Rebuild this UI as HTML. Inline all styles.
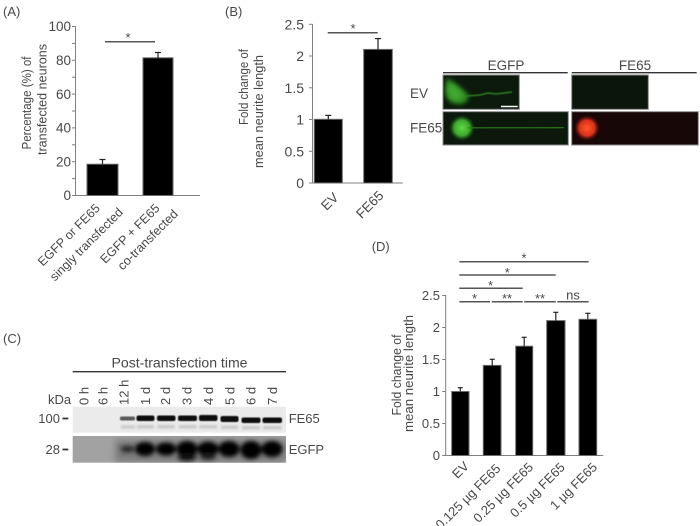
<!DOCTYPE html>
<html><head><meta charset="utf-8">
<style>
html,body{margin:0;padding:0;background:#fff;}
svg{display:block;}
text{font-family:"Liberation Sans",sans-serif;fill:#484848;}
</style></head><body>
<svg width="700" height="526" viewBox="0 0 700 526" xmlns="http://www.w3.org/2000/svg">
<defs>
<filter id="b05" x="-50%" y="-50%" width="200%" height="200%"><feGaussianBlur stdDeviation="0.6"/></filter>
<filter id="b1" x="-50%" y="-50%" width="200%" height="200%"><feGaussianBlur stdDeviation="1"/></filter>
<filter id="b2" x="-50%" y="-50%" width="200%" height="200%"><feGaussianBlur stdDeviation="2"/></filter>
<filter id="b3" x="-50%" y="-50%" width="200%" height="200%"><feGaussianBlur stdDeviation="3.5"/></filter>
<radialGradient id="gG" cx="0.5" cy="0.5" r="0.5">
<stop offset="0" stop-color="#62d84a"/><stop offset="0.6" stop-color="#3aa82a"/><stop offset="1" stop-color="#1f5a18" stop-opacity="0"/>
</radialGradient>
<radialGradient id="gR" cx="0.5" cy="0.5" r="0.5">
<stop offset="0" stop-color="#ff5a2a"/><stop offset="0.6" stop-color="#d8301a"/><stop offset="1" stop-color="#5a1008" stop-opacity="0"/>
</radialGradient>
<clipPath id="c1"><rect x="443" y="75" width="76.3" height="34.3"/></clipPath>
<clipPath id="c3"><rect x="443" y="111.7" width="125.3" height="33.3"/></clipPath>
<clipPath id="c4"><rect x="571.7" y="111.7" width="126.6" height="33.3"/></clipPath>
<clipPath id="cb2"><rect x="72.7" y="436" width="213.3" height="26.7"/></clipPath>
</defs>

<!-- ================= Panel A ================= -->
<text x="3" y="16" font-size="13">(A)</text>
<g stroke="#808080" stroke-width="1" fill="none">
<line x1="75.5" y1="26" x2="75.5" y2="195.5"/>
<line x1="75" y1="195.5" x2="200" y2="195.5"/>
<line x1="72" y1="195.5" x2="75.5" y2="195.5"/>
<line x1="72" y1="178.6" x2="75.5" y2="178.6"/>
<line x1="72" y1="161.7" x2="75.5" y2="161.7"/>
<line x1="72" y1="144.8" x2="75.5" y2="144.8"/>
<line x1="72" y1="127.9" x2="75.5" y2="127.9"/>
<line x1="72" y1="111" x2="75.5" y2="111"/>
<line x1="72" y1="94.1" x2="75.5" y2="94.1"/>
<line x1="72" y1="77.2" x2="75.5" y2="77.2"/>
<line x1="72" y1="60.3" x2="75.5" y2="60.3"/>
<line x1="72" y1="43.4" x2="75.5" y2="43.4"/>
<line x1="72" y1="26.5" x2="75.5" y2="26.5"/>
</g>
<g font-size="13.5" text-anchor="end">
<text x="71" y="200.2">0</text>
<text x="71" y="166.4">20</text>
<text x="71" y="132.6">40</text>
<text x="71" y="98.8">60</text>
<text x="71" y="65">80</text>
<text x="71" y="31.2">100</text>
</g>
<g fill="#000" stroke="#6a6a6a" stroke-width="1">
<rect x="87" y="164.2" width="31" height="31.3"/>
<rect x="143" y="57.8" width="30" height="137.7"/>
</g>
<g stroke="#222" stroke-width="1.2">
<line x1="102.5" y1="164" x2="102.5" y2="159.5"/><line x1="99.5" y1="159.5" x2="105.5" y2="159.5"/>
<line x1="158" y1="58" x2="158" y2="52.5"/><line x1="155" y1="52.5" x2="161" y2="52.5"/>
</g>
<line x1="105" y1="41.7" x2="155" y2="41.7" stroke="#555" stroke-width="1.5"/>
<text x="128" y="42" font-size="13" text-anchor="middle">*</text>
<text transform="translate(31,103) rotate(-90)" text-anchor="middle" font-size="13" textLength="93" lengthAdjust="spacingAndGlyphs">Percentage (%) of</text>
<text transform="translate(46.5,99.5) rotate(-90)" text-anchor="middle" font-size="13" textLength="111" lengthAdjust="spacingAndGlyphs">transfected neurons</text>
<g font-size="12.5" text-anchor="end">
<text transform="translate(100.7,209) rotate(-45)">EGFP or FE65</text>
<text transform="translate(123.7,213) rotate(-45)">singly transfected</text>
<text transform="translate(160.4,209) rotate(-45)">EGFP + FE65</text>
<text transform="translate(178.7,214.7) rotate(-45)">co-transfected</text>
</g>

<!-- ================= Panel B ================= -->
<text x="225" y="16" font-size="13">(B)</text>
<g stroke="#808080" stroke-width="1" fill="none">
<line x1="312.5" y1="24" x2="312.5" y2="183"/>
<line x1="312" y1="183" x2="402.7" y2="183"/>
<line x1="309" y1="183" x2="312.5" y2="183"/>
<line x1="309" y1="151.3" x2="312.5" y2="151.3"/>
<line x1="309" y1="119.5" x2="312.5" y2="119.5"/>
<line x1="309" y1="87.8" x2="312.5" y2="87.8"/>
<line x1="309" y1="56" x2="312.5" y2="56"/>
<line x1="309" y1="24.3" x2="312.5" y2="24.3"/>
</g>
<g font-size="14" text-anchor="end">
<text x="304" y="188">0</text>
<text x="304" y="156.3">0.5</text>
<text x="304" y="124.5">1</text>
<text x="304" y="92.8">1.5</text>
<text x="304" y="61">2</text>
<text x="304" y="29.3">2.5</text>
</g>
<g fill="#000" stroke="#6a6a6a" stroke-width="1">
<rect x="314.3" y="119.3" width="28" height="63.7"/>
<rect x="363.7" y="49.4" width="28.6" height="133.6"/>
</g>
<g stroke="#222" stroke-width="1.2">
<line x1="328.3" y1="119.5" x2="328.3" y2="115.4"/><line x1="325.3" y1="115.4" x2="331.3" y2="115.4"/>
<line x1="378" y1="49.5" x2="378" y2="38.6"/><line x1="375" y1="38.6" x2="381" y2="38.6"/>
</g>
<line x1="327.7" y1="32.7" x2="377.7" y2="32.7" stroke="#555" stroke-width="1.5"/>
<text x="353" y="33" font-size="13" text-anchor="middle">*</text>
<text transform="translate(248,87) rotate(-90)" text-anchor="middle" font-size="13" textLength="76" lengthAdjust="spacingAndGlyphs">Fold change of</text>
<text transform="translate(263,111.5) rotate(-90)" text-anchor="middle" font-size="13" textLength="113" lengthAdjust="spacingAndGlyphs">mean neurite length</text>
<g font-size="13.5" text-anchor="end">
<text transform="translate(339.4,198.4) rotate(-45)">EV</text>
<text transform="translate(384.4,196.4) rotate(-45)">FE65</text>
</g>

<!-- ================= Microscopy ================= -->
<text x="506" y="70" font-size="13.5" text-anchor="middle">EGFP</text>
<text x="635" y="70" font-size="13.5" text-anchor="middle">FE65</text>
<line x1="443" y1="72.7" x2="567.7" y2="72.7" stroke="#333" stroke-width="1.3"/>
<line x1="571.7" y1="72.7" x2="696.7" y2="72.7" stroke="#333" stroke-width="1.3"/>
<text x="410" y="98" font-size="13.5">EV</text>
<text x="410" y="132.5" font-size="13.5">FE65</text>

<!-- EV EGFP -->
<rect x="443" y="75" width="76.3" height="34.3" fill="#0c1a0c"/>
<g clip-path="url(#c1)">
<path d="M446,79 C452,79 460,87 467,93 C470,97 468,103 461,104 C452,105 446,100 445,92 Z" fill="#2f8a22" filter="url(#b2)"/>
<path d="M449,84 C454,85 459,90 462,94 C464,98 460,100 455,100 C450,99 448,94 448,88 Z" fill="#3fa82e" filter="url(#b2)"/>
<path d="M466,96 L480,95 L488,93 L496,94 L504,93 L512,92" stroke="#2f7f24" stroke-width="1.5" fill="none" filter="url(#b05)"/>
</g>
<line x1="501" y1="106.5" x2="517.7" y2="106.5" stroke="#fff" stroke-width="1.6"/>
<rect x="443" y="75" width="76.3" height="34.3" fill="none" stroke="#8a8a8a" stroke-width="1"/>

<!-- EV FE65 -->
<rect x="571.7" y="75" width="76.6" height="34.3" fill="#0b150b" stroke="#8a8a8a" stroke-width="1"/>

<!-- FE65 EGFP -->
<rect x="443" y="111.7" width="125.3" height="33.3" fill="#0b180b"/>
<g clip-path="url(#c3)">
<circle cx="462" cy="128" r="13" fill="url(#gG)"/>
<line x1="468" y1="128" x2="564" y2="127.5" stroke="#2a7f1f" stroke-width="1.7" filter="url(#b05)"/>
<line x1="548" y1="127.5" x2="562" y2="127.5" stroke="#3a9a2a" stroke-width="2.2" filter="url(#b05)"/>
</g>
<rect x="443" y="111.7" width="125.3" height="33.3" fill="none" stroke="#8a8a8a" stroke-width="1"/>

<!-- FE65 FE65 -->
<rect x="571.7" y="111.7" width="126.6" height="33.3" fill="#180707"/>
<g clip-path="url(#c4)">
<circle cx="587" cy="128" r="13" fill="url(#gR)"/>
<line x1="593" y1="128" x2="693" y2="128" stroke="#a82410" stroke-width="1.8" filter="url(#b05)"/>
<line x1="676" y1="128" x2="692" y2="128" stroke="#c82e14" stroke-width="2.4" filter="url(#b05)"/>
</g>
<rect x="571.7" y="111.7" width="126.6" height="33.3" fill="none" stroke="#8a8a8a" stroke-width="1"/>

<!-- ================= Panel C ================= -->
<text x="3" y="343" font-size="13">(C)</text>
<text x="179.5" y="367.5" font-size="14" text-anchor="middle" textLength="136" lengthAdjust="spacingAndGlyphs">Post-transfection time</text>
<line x1="72.7" y1="371.7" x2="286" y2="371.7" stroke="#333" stroke-width="1.3"/>
<g font-size="13">
<text transform="translate(88.5,405) rotate(-90)">0 h</text>
<text transform="translate(107.5,405) rotate(-90)">6 h</text>
<text transform="translate(128.5,405) rotate(-90)">12 h</text>
<text transform="translate(149.8,405) rotate(-90)">1 d</text>
<text transform="translate(170,405) rotate(-90)">2 d</text>
<text transform="translate(191.7,405) rotate(-90)">3 d</text>
<text transform="translate(213.1,405) rotate(-90)">4 d</text>
<text transform="translate(234.5,405) rotate(-90)">5 d</text>
<text transform="translate(255.3,405) rotate(-90)">6 d</text>
<text transform="translate(277,405) rotate(-90)">7 d</text>
</g>
<text x="48" y="404" font-size="13">kDa</text>
<text x="60" y="423" font-size="13" text-anchor="end">100</text>
<line x1="62.5" y1="418.5" x2="68.3" y2="418.5" stroke="#333" stroke-width="1.8"/>
<text x="60" y="454" font-size="13" text-anchor="end">28</text>
<line x1="62.5" y1="449.5" x2="68.3" y2="449.5" stroke="#333" stroke-width="1.8"/>
<text x="288.7" y="423" font-size="13">FE65</text>
<text x="288.7" y="454" font-size="13">EGFP</text>

<!-- blot 1 -->
<rect x="72.7" y="406.7" width="213.3" height="26" fill="#ebebeb"/>
<g filter="url(#b05)">
<rect x="120" y="416.5" width="15" height="4" rx="1.5" fill="#5a5a5a"/>
<rect x="136.5" y="415.5" width="18" height="5.5" rx="2" fill="#0a0a0a"/>
<rect x="157" y="415.5" width="18.5" height="5.5" rx="2" fill="#0a0a0a"/>
<rect x="178" y="415.5" width="19" height="5.5" rx="2" fill="#0a0a0a"/>
<rect x="199" y="415" width="18.5" height="6" rx="2" fill="#0a0a0a"/>
<rect x="220.5" y="416" width="18" height="6" rx="2" fill="#0a0a0a"/>
<rect x="241.5" y="417.5" width="19" height="5.5" rx="2" fill="#0a0a0a"/>
<rect x="262.5" y="417.5" width="19.5" height="5.5" rx="2" fill="#0a0a0a"/>
</g>
<g filter="url(#b1)" fill="#c8c8c8">
<rect x="121" y="425.5" width="14" height="3"/>
<rect x="137" y="425" width="17" height="3.5"/>
<rect x="157.5" y="425" width="17" height="3.5"/>
<rect x="178.5" y="425" width="18" height="3.5"/>
<rect x="199.5" y="425" width="17.5" height="3.5"/>
<rect x="221" y="425.5" width="17" height="3.5"/>
<rect x="242" y="426" width="18" height="3.5"/>
<rect x="263" y="426" width="18.5" height="3.5"/>
</g>

<!-- blot 2 -->
<rect x="72.7" y="436" width="213.3" height="26.7" fill="#a2a2a2"/>
<g clip-path="url(#cb2)">
<rect x="115" y="440" width="171" height="22" fill="#7a7a7a" filter="url(#b3)"/>
<g filter="url(#b2)">
<ellipse cx="127.5" cy="449" rx="7" ry="3.5" fill="#2a2a2a"/>
<ellipse cx="145" cy="449" rx="10" ry="7" fill="#050505"/>
<ellipse cx="166" cy="449" rx="10" ry="6.5" fill="#050505"/>
<ellipse cx="187" cy="449" rx="10.5" ry="8" fill="#000"/>
<ellipse cx="187" cy="457" rx="9" ry="4" fill="#111"/>
<ellipse cx="208" cy="449" rx="10.5" ry="7.5" fill="#000"/>
<ellipse cx="208" cy="457" rx="8" ry="3" fill="#222"/>
<ellipse cx="229" cy="449" rx="10.5" ry="8" fill="#000"/>
<ellipse cx="251" cy="450" rx="10.5" ry="9" fill="#000"/>
<ellipse cx="272" cy="449" rx="10.5" ry="8" fill="#000"/>
</g>
</g>

<!-- ================= Panel D ================= -->
<text x="371.7" y="251" font-size="13">(D)</text>
<g stroke="#808080" stroke-width="1" fill="none">
<line x1="445.7" y1="295" x2="445.7" y2="455.5"/>
<line x1="445.2" y1="455.5" x2="603.3" y2="455.5"/>
<line x1="442.2" y1="455.5" x2="445.7" y2="455.5"/>
<line x1="442.2" y1="423.5" x2="445.7" y2="423.5"/>
<line x1="442.2" y1="391.5" x2="445.7" y2="391.5"/>
<line x1="442.2" y1="359.5" x2="445.7" y2="359.5"/>
<line x1="442.2" y1="327.5" x2="445.7" y2="327.5"/>
<line x1="442.2" y1="295.5" x2="445.7" y2="295.5"/>
</g>
<g font-size="13" text-anchor="end">
<text x="440" y="460">0</text>
<text x="440" y="428">0.5</text>
<text x="440" y="396">1</text>
<text x="440" y="364">1.5</text>
<text x="440" y="332">2</text>
<text x="440" y="300">2.5</text>
</g>
<g fill="#000" stroke="#6a6a6a" stroke-width="1">
<rect x="451.7" y="391.5" width="17.3" height="64"/>
<rect x="483.3" y="365.4" width="17.7" height="90.1"/>
<rect x="515.7" y="346.2" width="17" height="109.3"/>
<rect x="546.7" y="320.6" width="18.3" height="134.9"/>
<rect x="579" y="319.3" width="17.7" height="136.2"/>
</g>
<g stroke="#222" stroke-width="1.2">
<line x1="460.3" y1="391.5" x2="460.3" y2="387.7"/><line x1="457.8" y1="387.7" x2="462.8" y2="387.7"/>
<line x1="492.2" y1="365.5" x2="492.2" y2="359.3"/><line x1="489.7" y1="359.3" x2="494.7" y2="359.3"/>
<line x1="524.2" y1="346.3" x2="524.2" y2="337.3"/><line x1="521.7" y1="337.3" x2="526.7" y2="337.3"/>
<line x1="555.8" y1="320.7" x2="555.8" y2="312.3"/><line x1="553.3" y1="312.3" x2="558.3" y2="312.3"/>
<line x1="587.8" y1="319.4" x2="587.8" y2="313.3"/><line x1="585.3" y1="313.3" x2="590.3" y2="313.3"/>
</g>
<g stroke="#555" stroke-width="1.5">
<line x1="459.3" y1="301.7" x2="490" y2="301.7"/>
<line x1="491.7" y1="301.7" x2="522.7" y2="301.7"/>
<line x1="524.3" y1="301.7" x2="555.7" y2="301.7"/>
<line x1="557.3" y1="301.7" x2="588.7" y2="301.7"/>
<line x1="459.3" y1="288.3" x2="522.7" y2="288.3"/>
<line x1="459.3" y1="275" x2="555.7" y2="275"/>
<line x1="459.3" y1="261.7" x2="588.7" y2="261.7"/>
</g>
<g font-size="13" text-anchor="middle">
<text x="474.5" y="303">*</text>
<text x="507" y="303">**</text>
<text x="540" y="303">**</text>
<text x="573" y="299.3">ns</text>
<text x="490.5" y="290">*</text>
<text x="507.3" y="277">*</text>
<text x="524" y="262.5">*</text>
</g>
<text transform="translate(401,375) rotate(-90)" text-anchor="middle" font-size="13" textLength="81" lengthAdjust="spacingAndGlyphs">Fold change of</text>
<text transform="translate(413,373.5) rotate(-90)" text-anchor="middle" font-size="13" textLength="117" lengthAdjust="spacingAndGlyphs">mean neurite length</text>
<g font-size="13" text-anchor="end">
<text transform="translate(469.7,467) rotate(-45)">EV</text>
<text transform="translate(501.4,469.4) rotate(-45)">0.125 µg FE65</text>
<text transform="translate(534,468) rotate(-45)">0.25 µg FE65</text>
<text transform="translate(565.7,468) rotate(-45)">0.5 µg FE65</text>
<text transform="translate(598,468) rotate(-45)">1 µg FE65</text>
</g>
</svg>
</body></html>
